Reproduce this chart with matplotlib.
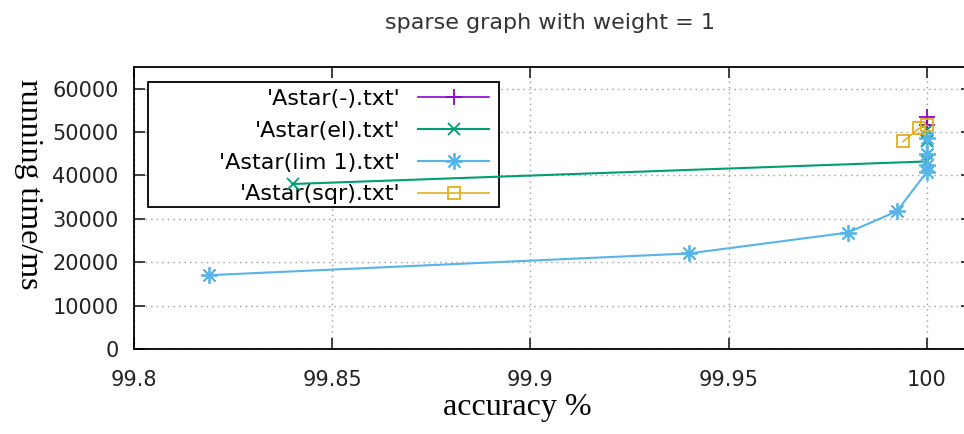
import matplotlib
matplotlib.use('Agg')
import matplotlib.pyplot as plt
from matplotlib.patches import Rectangle

# accuracy (%) vs running time (ms) for each heuristic run
minus_acc = [100.0, 100.0]
minus_ms = [53500, 51500]

el_acc = [99.84, 100.0, 100.0, 100.0]
el_ms = [38000, 43200, 48000, 50500]

lim1_acc = [99.819, 99.94, 99.98, 99.9924, 100.0, 100.0, 100.0, 100.0]
lim1_ms = [17000, 22000, 26800, 31700, 40800, 42300, 45000, 48500]

sqr_acc = [99.994, 99.998, 100.0]
sqr_ms = [47800, 50800, 51500]

x_ticks = [99.8, 99.85, 99.9, 99.95, 100]
x_tick_labels = ['99.8', '99.85', '99.9', '99.95', '100']
y_ticks = [0, 10000, 20000, 30000, 40000, 50000, 60000]

fig = plt.figure(figsize=(9.64, 4.34), dpi=100)
# right border sits just past the edge of the canvas
ax = fig.add_axes([0.139, 0.196, 0.869, 0.650])

star = (8, 2, 0)
ax.plot(minus_acc, minus_ms, color='#9400d3', marker='+', ms=11, mew=1.3, lw=1.2,
        label="'Astar(-).txt'", zorder=3)
ax.plot(el_acc, el_ms, color='#009e73', marker='x', ms=9, mew=1.3, lw=1.5,
        label="'Astar(el).txt'", zorder=3)
ax.plot(lim1_acc, lim1_ms, color='#56b4e9', marker=star, ms=12, mew=1.3, lw=1.5,
        label="'Astar(lim 1).txt'", zorder=3)
ax.plot(sqr_acc, sqr_ms, color='#e0b020', marker='s', ms=9, mew=1.3, lw=1.2,
        fillstyle='none', label="'Astar(sqr).txt'", zorder=3)

ax.set_xlim(99.8, 100.0113)
ax.set_ylim(0, 65000)
ax.set_xticks(x_ticks)
ax.set_xticklabels(x_tick_labels)
ax.set_yticks(y_ticks)

ax.set_axisbelow(True)
ax.grid(True, color='#9a9a9a', linestyle=(0, (1, 3)), linewidth=1.0)
ax.tick_params(direction='in', length=8, width=1.2, top=True, right=True,
               labelsize=15, colors='#222222')
ax.tick_params(axis='x', pad=15)
ax.tick_params(axis='y', pad=11)
for s in ax.spines.values():
    s.set_linewidth(1.3)
ax.spines['right'].set_visible(False)

fig.text(0.571, 0.948, 'sparse graph with weight = 1', fontsize=16,
         color='#333333', ha='center', va='center')
ax.set_xlabel('accuracy %', family='Liberation Serif', fontsize=23)
ax.xaxis.set_label_coords(0.458, -0.156)
ax.set_ylabel('running time/ms', family='Liberation Serif', fontsize=23,
              rotation=270, va='center', ha='center')
ax.yaxis.set_label_coords(-0.126, 0.585)

# key box: white panel over the grid, data lines still drawn on top
ax.add_patch(Rectangle((0.0167, 0.5035), 0.419, 0.4435, transform=ax.transAxes,
                       facecolor='white', edgecolor='black', linewidth=1.3,
                       zorder=1))
leg = ax.legend(loc='upper right', bbox_to_anchor=(0.424, 0.921), borderaxespad=0,
                markerfirst=False, fontsize=16, handlelength=3.2,
                handletextpad=0.8, labelspacing=0.53, borderpad=0,
                frameon=False)
leg.set_zorder(1.5)

fig.savefig('out.png', dpi=100)
